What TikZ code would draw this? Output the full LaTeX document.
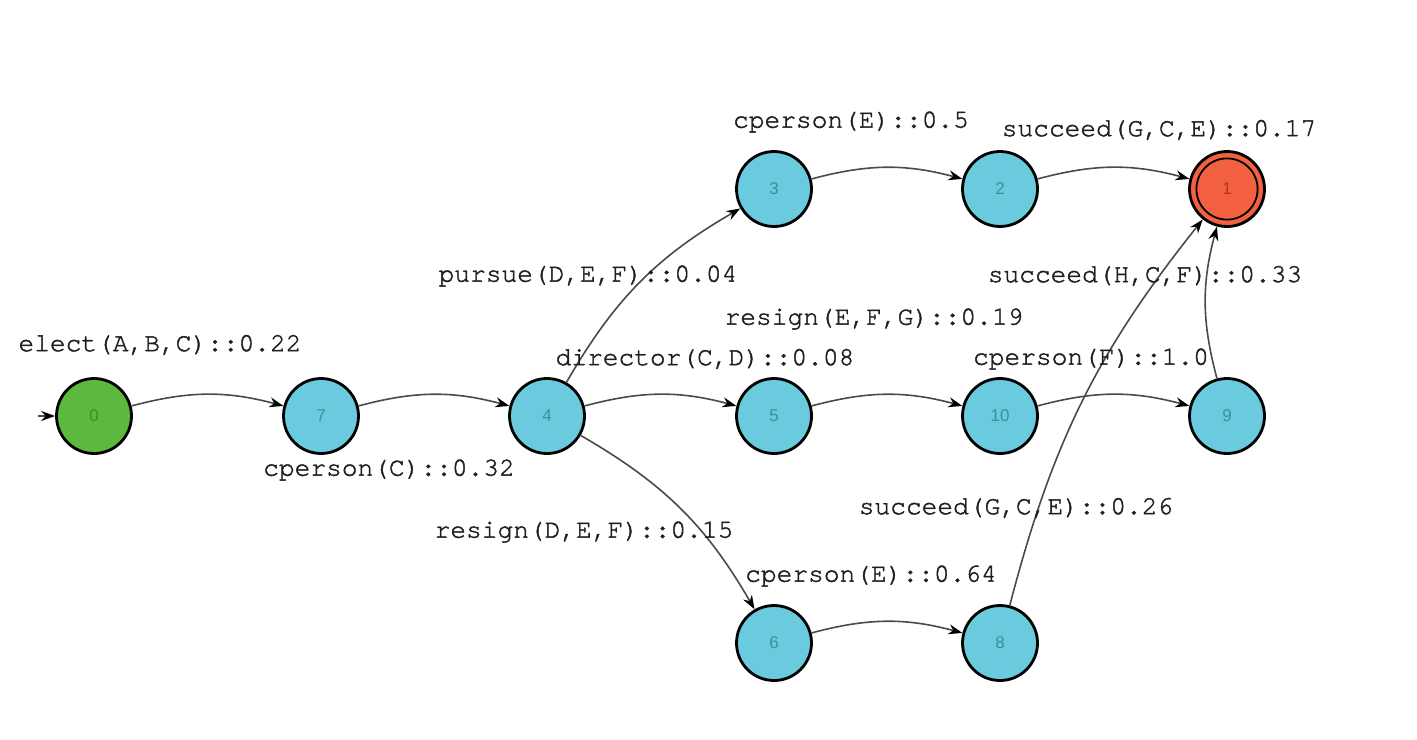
\documentclass[tikz,border=0pt]{standalone}
\usepackage{fontspec}
\newfontfamily\lblfont{TeX Gyre Cursor}[FakeBold=1.6]
\newfontfamily\numfont{Liberation Sans}
\usetikzlibrary{arrows.meta}
\definecolor{startfill}{HTML}{5BB93F}
\definecolor{statefill}{HTML}{69CBDD}
\definecolor{finalfill}{HTML}{F2603F}
\definecolor{startnum}{HTML}{3E8A2C}
\definecolor{statenum}{HTML}{3E8E9E}
\definecolor{finalnum}{HTML}{A83A22}
\definecolor{edgegray}{HTML}{4A4A4A}
\tikzset{
  state/.style={circle, draw=black, line width=1.4pt, minimum size=37.5pt, inner sep=0pt,
    fill=statefill, text=statenum, font=\numfont\fontsize{8.5}{9}\selectfont},
  startstate/.style={state, fill=startfill, text=startnum},
  finalstate/.style={state, fill=finalfill, text=finalnum,
    path picture={\draw[black, line width=0.9pt]
      (path picture bounding box.center) circle (15.3pt);}},
  trans/.style={draw=edgegray, line width=0.8pt, -{Stealth[length=7pt, width=5pt, black]}},
  lbl/.style={font=\lblfont\fontsize{13.1}{14}\selectfont, text=black!88, inner sep=0pt}
}
\begin{document}
\begin{tikzpicture}[x=0.5pt, y=-0.5pt]
  \useasboundingbox (0,0) rectangle (1417,739);
  % states
  \node[startstate] (n0) at (94,416) {0};
  \node[state] (n7) at (321,416) {7};
  \node[state] (n4) at (547,416) {4};
  \node[state] (n5) at (774,416) {5};
  \node[state] (n10) at (1000,416) {10};
  \node[state] (n9) at (1227,416) {9};
  \node[state] (n3) at (774,189) {3};
  \node[state] (n2) at (1000,189) {2};
  \node[finalstate] (n1) at (1227,189) {1};
  \node[state] (n6) at (774,643) {6};
  \node[state] (n8) at (1000,643) {8};
  % initial marker
  \coordinate (init) at (38,416);
  \draw[trans] (init) -- (n0);
  % transitions
  \draw[trans] (n0) to[bend left=15] (n7);
  \draw[trans] (n7) to[bend left=15] (n4);
  \draw[trans] (n4) to[bend left=15] (n3);
  \draw[trans] (n4) to[bend left=15] (n5);
  \draw[trans] (n4) to[bend left=15] (n6);
  \draw[trans] (n3) to[bend left=15] (n2);
  \draw[trans] (n2) to[bend left=15] (n1);
  \draw[trans] (n5) to[bend left=15] (n10);
  \draw[trans] (n10) to[bend left=15] (n9);
  \draw[trans] (n9) to[bend left=15] (n1);
  \draw[trans] (n6) to[bend left=15] (n8);
  \draw[trans] (n8) to[bend left=12] (n1);
  % transition labels
  \node[lbl] (l07) at (160,345) {elect(A,B,C)::0.22};
  \node[lbl] (l74) at (389,470) {cperson(C)::0.32};
  \node[lbl] (l43) at (588,276) {pursue(D,E,F)::0.04};
  \node[lbl] (l45) at (705,359) {director(C,D)::0.08};
  \node[lbl] (l46) at (584,532) {resign(D,E,F)::0.15};
  \node[lbl] (l32) at (851,122) {cperson(E)::0.5};
  \node[lbl] (l21) at (1159,130) {succeed(G,C,E)::0.17};
  \node[lbl] (l91) at (1145,276) {succeed(H,C,F)::0.33};
  \node[lbl] (l510) at (874,319) {resign(E,F,G)::0.19};
  \node[lbl] (l109) at (1091,359) {cperson(F)::1.0};
  \node[lbl] (l81) at (1016,508) {succeed(G,C,E)::0.26};
  \node[lbl] (l68) at (871,576) {cperson(E)::0.64};
\end{tikzpicture}
\end{document}
